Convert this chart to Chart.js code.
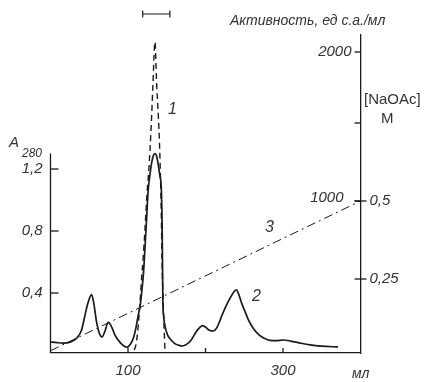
<!DOCTYPE html>
<html><head><meta charset="utf-8">
<script src="https://cdn.jsdelivr.net/npm/chart.js@4"></script>
<style>html,body{margin:0;padding:0;background:#fff}#wrap{width:428px;height:382px}</style>
</head><body><div id="wrap"><canvas id="c" width="428" height="382"></canvas></div>
<script>
// Curve 2: absorbance A280 (solid)
const solidVolume = [0, 8, 16, 26, 34, 40, 44, 48, 53, 56, 59.5, 63, 66.5, 70, 74.5, 79, 83, 90, 98.5,
  103, 107, 110, 113, 116, 118, 120, 122, 124, 126, 128, 130.5, 133, 135, 137, 139, 141, 143, 144, 144.5, 145, 146, 148, 151, 155, 160, 166, 170,
  176, 182, 188, 193, 196, 200, 205, 210, 215, 220, 226, 232, 237, 240, 243, 247, 251, 256, 262, 268, 275, 283, 291, 300, 310, 322, 335, 350, 371];
const a280 = [0.084, 0.08, 0.077, 0.085, 0.11, 0.16, 0.245, 0.33, 0.39, 0.33, 0.21, 0.14, 0.116, 0.15, 0.21, 0.18, 0.13, 0.08, 0.05,
  0.07, 0.11, 0.17, 0.25, 0.33, 0.42, 0.53, 0.7, 0.88, 1.06, 1.15, 1.24, 1.29, 1.30, 1.28, 1.23, 1.16, 1.07, 0.85, 0.6, 0.35, 0.25, 0.18, 0.13, 0.1, 0.075, 0.062, 0.058,
  0.07, 0.1, 0.15, 0.18, 0.19, 0.18, 0.16, 0.155, 0.18, 0.24, 0.31, 0.37, 0.41, 0.42, 0.39, 0.33, 0.28, 0.22, 0.17, 0.135, 0.11, 0.095, 0.093, 0.097, 0.09, 0.077, 0.065, 0.057, 0.052];
// Curve 1: activity (dashed)
const activityVolume = [108, 110, 112, 115, 117.5, 119.4, 122, 124.5, 127, 129.7, 132, 134.8, 137, 140, 141.3, 143, 143.9, 145.5, 147.7];
const activity = [0, 30, 100, 280, 480, 604, 820, 1050, 1220, 1476, 1760, 2067, 1780, 1476, 1275, 900, 604, 300, 0];
// Curve 3: NaOAc gradient (dash-dot)
const gradientVolume = [0, 400];
const naoac = [0.02, 0.5];
// Ticks
const xLabelValues = [100, 300];
const xTickMarks = [100, 200, 300];
const aTicks = [0.4, 0.8, 1.2];
const activityTicks = [1000, 2000];
const activityTickLabels = ['1000', '2000'];
const naoacTicks = [0.25, 0.5, 0.75];
const naoacTickLabels = ['0,25', '0,5', ''];
const pooledFraction = [119, 154];
const leftAxisTop = 1.3;

const INK = '#1a1a1a';
const TXT = '#333';
const FAM = "'Liberation Sans', 'DejaVu Sans', sans-serif";
const NARROW = "'Liberation Sans Narrow', 'Liberation Sans', sans-serif";

const pts = (xs, ys) => xs.map((x, i) => ({x, y: ys[i]}));

const overlay = {
  id: 'overlay',
  afterDraw(chart) {
    const ctx = chart.ctx;
    const {left, right, top, bottom} = chart.chartArea;
    const xs = chart.scales.x, ya = chart.scales.yA, yact = chart.scales.yAct, yna = chart.scales.yNa;
    ctx.save();
    ctx.strokeStyle = INK;
    ctx.lineWidth = 1.3;
    // left axis line (partial)
    ctx.beginPath();
    ctx.moveTo(left, bottom);
    ctx.lineTo(left, ya.getPixelForValue(leftAxisTop));
    ctx.stroke();
    // left ticks (inward)
    aTicks.forEach(v => {
      const y = ya.getPixelForValue(v);
      ctx.beginPath(); ctx.moveTo(left, y); ctx.lineTo(left + 8, y); ctx.stroke();
    });
    // x ticks (inward)
    xTickMarks.forEach(v => {
      const x = xs.getPixelForValue(v);
      ctx.beginPath(); ctx.moveTo(x, bottom); ctx.lineTo(x, bottom - 5); ctx.stroke();
    });
    // right ticks
    naoacTicks.forEach((v, i) => {
      const y = yna.getPixelForValue(v);
      ctx.beginPath(); ctx.moveTo(right - 6, y); ctx.lineTo(naoacTickLabels[i] ? right + 6 : right, y); ctx.stroke();
    });
    activityTicks.forEach(v => {
      const y = yact.getPixelForValue(v);
      ctx.beginPath(); ctx.moveTo(right - 6, y); ctx.lineTo(right, y); ctx.stroke();
    });
    // fraction bar
    const fx0 = xs.getPixelForValue(pooledFraction[0]), fx1 = xs.getPixelForValue(pooledFraction[1]);
    ctx.lineWidth = 1.2;
    ctx.beginPath();
    ctx.moveTo(fx0, 14); ctx.lineTo(fx1, 14);
    ctx.moveTo(fx0, 10.5); ctx.lineTo(fx0, 17.5);
    ctx.moveTo(fx1, 10.5); ctx.lineTo(fx1, 17.5);
    ctx.stroke();
    // texts
    ctx.fillStyle = TXT;
    ctx.textBaseline = 'middle';
    ctx.font = 'italic 15px ' + FAM;
    ctx.textAlign = 'right';
    ctx.fillText(activityTickLabels[1], right - 9, yact.getPixelForValue(activityTicks[1]));
    ctx.fillText(activityTickLabels[0], right - 17, yact.getPixelForValue(activityTicks[0]) - 3);
    ctx.textAlign = 'left';
    ctx.font = 'italic 14px ' + FAM;
    ctx.fillText('мл', 352, 374);
    ctx.font = 'italic 15px ' + FAM;
    ctx.fillText('A', 9, 143);
    ctx.font = 'italic 12px ' + FAM;
    ctx.fillText('280', 22, 154);
    ctx.font = 'italic 14px ' + NARROW;
    ctx.fillText('Активность, ед с.а./мл', 230, 21);
    ctx.font = '15px ' + NARROW;
    ctx.fillText('[NaOAc]', 364, 100);
    ctx.fillText('M', 381, 119);
    ctx.font = 'italic 16px ' + FAM;
    ctx.fillText('1', 168, 110);
    ctx.fillText('2', 252, 297);
    ctx.fillText('3', 265, 228);
    ctx.restore();
  }
};

const tickFont = {family: FAM, size: 15, style: 'italic'};

new Chart(document.getElementById('c'), {
  type: 'line',
  data: {
    datasets: [
      {label: '2', data: pts(solidVolume, a280), yAxisID: 'yA', borderColor: INK, borderWidth: 1.7,
        pointRadius: 0, cubicInterpolationMode: 'monotone', fill: false},
      {label: '1', data: pts(activityVolume, activity), yAxisID: 'yAct', borderColor: INK, borderWidth: 1.4,
        borderDash: [6, 4], pointRadius: 0, cubicInterpolationMode: 'monotone', fill: false},
      {label: '3', data: pts(gradientVolume, naoac), yAxisID: 'yNa', borderColor: INK, borderWidth: 1.0,
        borderDash: [9, 4, 2, 4], pointRadius: 0, fill: false}
    ]
  },
  options: {
    responsive: false,
    animation: false,
    devicePixelRatio: 1,
    layout: {padding: {top: 35, left: 0, right: 0, bottom: 0}},
    plugins: {legend: {display: false}, tooltip: {enabled: false}},
    scales: {
      x: {
        type: 'linear', position: 'bottom', min: 0, max: 400,
        afterBuildTicks: s => { s.ticks = xLabelValues.map(v => ({value: v})); },
        ticks: {padding: 9, font: tickFont, color: TXT, maxRotation: 0, autoSkip: false, callback: v => String(v)},
        grid: {drawOnChartArea: false, drawTicks: false, color: 'rgba(0,0,0,0)'},
        border: {display: true, color: INK, width: 1.3},
        afterFit: s => { s.height = 29; }
      },
      yA: {
        type: 'linear', position: 'left', min: 0.013, max: 2.0645,
        afterBuildTicks: s => { s.ticks = aTicks.map(v => ({value: v})); },
        ticks: {padding: 8, font: tickFont, color: TXT, callback: v => String(v).replace('.', ',')},
        grid: {drawOnChartArea: false, drawTicks: false, color: 'rgba(0,0,0,0)'},
        border: {display: false},
        afterFit: s => { s.width = 50.5; }
      },
      yNa: {
        type: 'linear', position: 'right', min: 0.0128, max: 1.032,
        afterBuildTicks: s => { s.ticks = naoacTicks.map(v => ({value: v})); },
        ticks: {padding: 9, font: tickFont, color: TXT, callback: (v, i) => naoacTickLabels[i]},
        grid: {drawOnChartArea: false, drawTicks: false, color: 'rgba(0,0,0,0)'},
        border: {display: true, color: INK, width: 1.3},
        afterFit: s => { s.width = 67.5; }
      },
      yAct: {
        type: 'linear', display: false, min: -20, max: 2114
      }
    }
  },
  plugins: [overlay]
});
</script>
</body></html>
